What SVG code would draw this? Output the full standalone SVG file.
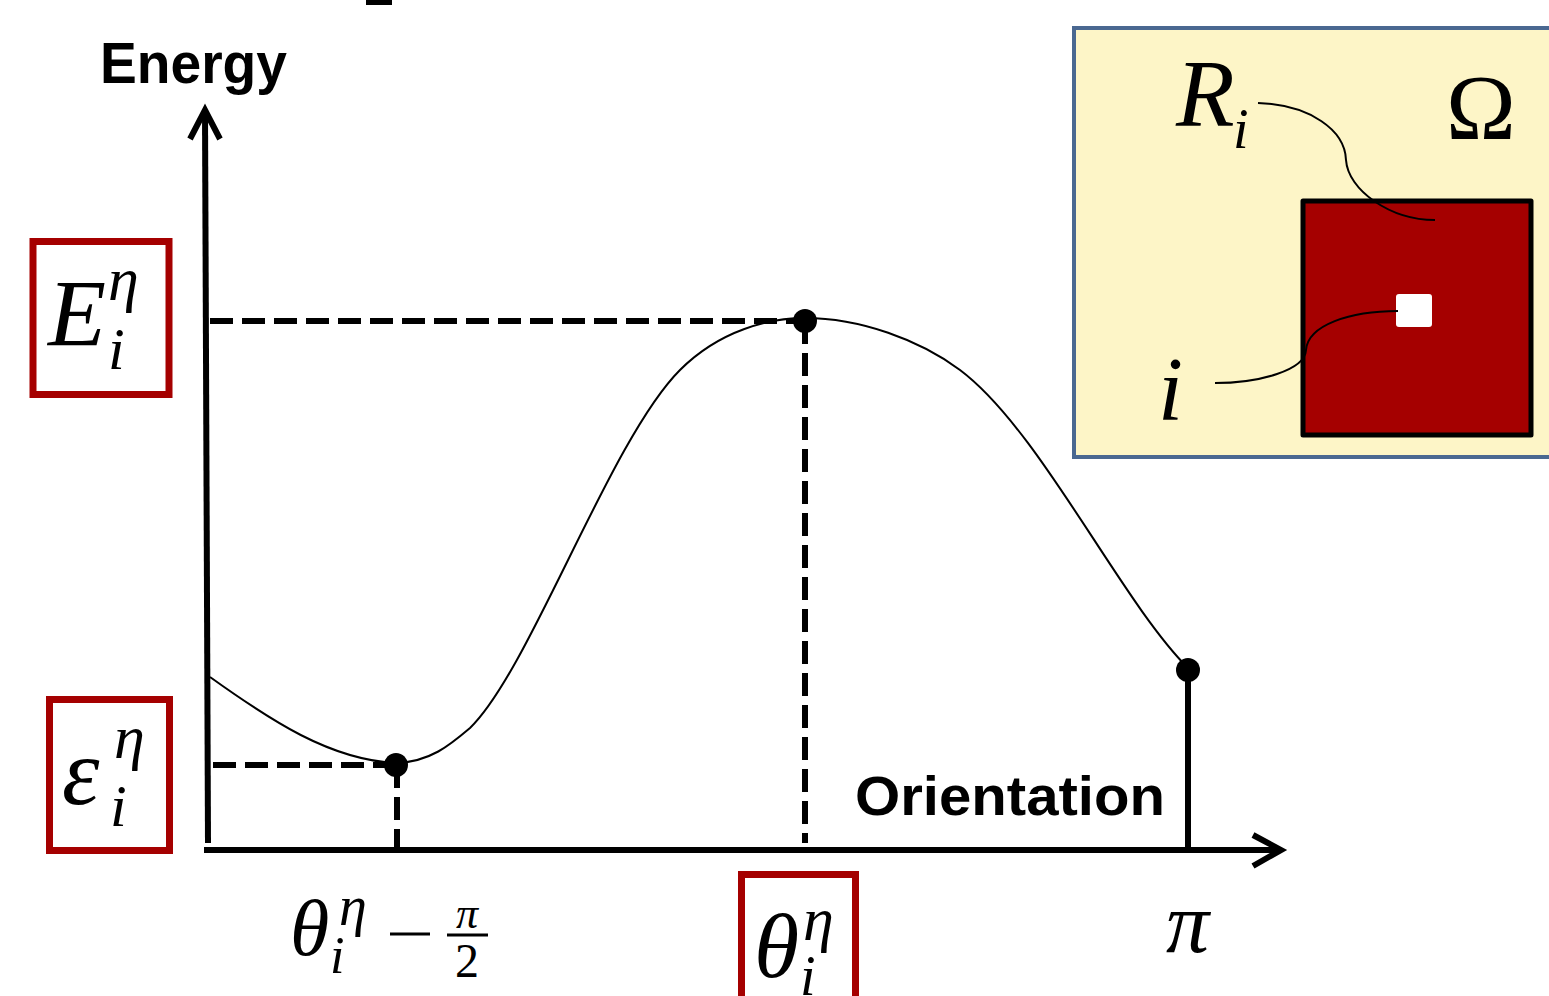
<svg xmlns="http://www.w3.org/2000/svg" width="1549" height="996" viewBox="0 0 1549 996">
<style>
.ax{stroke:#000;stroke-width:6;fill:none;stroke-linecap:butt}
.dash{stroke:#000;stroke-width:6;fill:none;stroke-dasharray:23 9}
.thin{stroke:#000;stroke-width:2;fill:none}
.box{fill:none;stroke:#A50000;stroke-width:7}
.m{font-family:"Liberation Serif","Times New Roman",serif;font-style:italic;fill:#000}
.up{font-family:"Liberation Serif","Times New Roman",serif;fill:#000}
.lbl{font-family:"Liberation Sans",Arial,sans-serif;font-weight:bold;fill:#000}
.dot{fill:#000}
</style>
<rect x="366" y="0" width="26" height="5" fill="#000"/>
<g id="axes">
<line class="ax" x1="205" y1="112" x2="208" y2="843"/>
<polyline class="ax" points="190,139 205,110 220,139" stroke-linecap="round"/>
<line class="ax" x1="204" y1="850" x2="1280" y2="850"/>
<polyline class="ax" points="1253,835 1281,850 1253,866" stroke-linecap="round"/>
</g>
<g id="connectors">
<line class="dash" x1="210" y1="321" x2="805" y2="321"/>
<line class="dash" x1="213" y1="765" x2="396" y2="765"/>
<line class="dash" x1="397" y1="765" x2="397" y2="850"/>
<line class="dash" x1="805" y1="321" x2="805" y2="843"/>
<line class="ax" x1="1188" y1="670" x2="1188" y2="850"/>
<path class="thin" d="M210,677 C270,720 330,760 396,763 C430,762 450,745 470,728 C530,670 610,440 680,370 C720,330 770,318 805,318 C860,318 920,340 960,370 C1040,430 1120,600 1188,668"/>
</g>
<g id="points">
<circle class="dot" cx="396" cy="765" r="12"/>
<circle class="dot" cx="805" cy="321" r="12"/>
<circle class="dot" cx="1188" cy="670" r="12"/>
</g>
<g id="energy-label"><text class="lbl" x="100" y="83" font-size="58" textLength="187" lengthAdjust="spacingAndGlyphs">Energy</text></g>
<g id="orientation-label"><text class="lbl" x="855" y="815" font-size="56" textLength="310" lengthAdjust="spacingAndGlyphs">Orientation</text></g>
<g id="E-box">
<rect class="box" x="33" y="241.5" width="136" height="153"/>
<text class="m" x="48" y="346" font-size="95">E</text>
<text class="m" x="108" y="300" font-size="62">η</text>
<text class="m" x="108" y="369" font-size="60">i</text>
</g>
<g id="eps-box">
<rect class="box" x="49.5" y="699.5" width="120" height="151"/>
<text class="m" x="62" y="804" font-size="95">ε</text>
<text class="m" x="114" y="758" font-size="62">η</text>
<text class="m" x="110" y="826" font-size="60">i</text>
</g>
<g id="theta-minus-label">
<text class="m" x="290" y="955" font-size="80">θ</text>
<text class="m" x="339" y="925" font-size="56">η</text>
<text class="m" x="330" y="973" font-size="52">i</text>
<line x1="390" y1="934" x2="430" y2="934" stroke="#000" stroke-width="3"/>
<text class="m" x="467" y="928" font-size="44" text-anchor="middle">π</text>
<line x1="447" y1="935" x2="488" y2="935" stroke="#000" stroke-width="3"/>
<text class="up" x="467" y="977" font-size="48" text-anchor="middle">2</text>
</g>
<g id="theta-box">
<rect class="box" x="741.5" y="874.5" width="114" height="200"/>
<text class="m" x="754" y="977" font-size="92">θ</text>
<text class="m" x="803" y="940" font-size="62">η</text>
<text class="m" x="800" y="995" font-size="56">i</text>
</g>
<g id="pi-label"><text class="m" x="1166" y="952" font-size="86">π</text></g>
<g id="inset">
<rect x="1074" y="28" width="490" height="429" fill="#FDF5C7" stroke="#4A6891" stroke-width="4"/>
<rect x="1303" y="201" width="228" height="234" fill="#A50000" stroke="#000" stroke-width="5" stroke-linejoin="round"/>
<rect x="1396" y="294" width="36" height="33" rx="3" fill="#fff"/>
<text class="m" x="1176" y="126" font-size="96">R</text>
<text class="m" x="1233" y="148" font-size="56">i</text>
<text class="up" x="1446" y="139" font-size="94">Ω</text>
<text class="m" x="1158" y="420" font-size="90">i</text>
<path class="thin" d="M1258,103 C1310,105 1345,130 1346,160 C1348,190 1390,220 1435,220"/>
<path class="thin" d="M1215,383 C1260,383 1305,370 1306,350 C1308,325 1350,311 1398,311"/>
</g>
</svg>
